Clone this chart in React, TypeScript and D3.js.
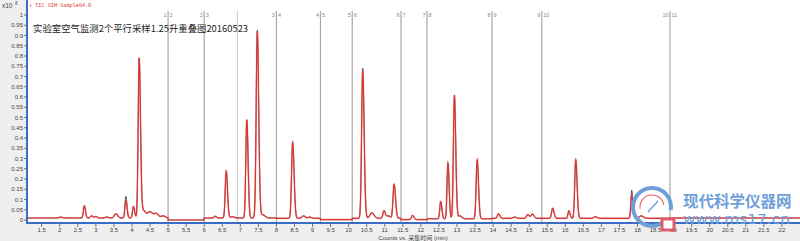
import React from 'react';
import * as d3 from 'd3';

const W = 800;
const H = 241;

// ---- data ----
const xTickValues = [1.5, 2, 2.5, 3, 3.5, 4, 4.5, 5, 5.5, 6, 6.5, 7, 7.5, 8, 8.5, 9, 9.5, 10, 10.5, 11, 11.5, 12, 12.5, 13, 13.5, 14, 14.5, 15, 15.5, 16, 16.5, 17, 17.5, 18, 18.5, 19, 19.5, 20, 20.5, 21, 21.5, 22];
const yTickValues = [0, 0.05, 0.1, 0.15, 0.2, 0.25, 0.3, 0.35, 0.4, 0.45, 0.5, 0.55, 0.6, 0.65, 0.7, 0.75, 0.8, 0.85, 0.9, 0.95, 1];
const yTickLabels = ['0', '0.05', '0.1', '0.15', '0.2', '0.25', '0.3', '0.35', '0.4', '0.45', '0.5', '0.55', '0.6', '0.65', '0.7', '0.75', '0.8', '0.85', '0.9', '0.95', '1'];

// retention times (min) of the peaks
const peakTimes = [2.02, 2.68, 2.88, 3.0, 3.3, 3.55, 3.83, 4.04, 4.2, 4.32, 4.5, 4.67, 4.86, 6.3, 6.61, 6.78, 7.18, 7.47, 7.62, 8.45, 8.75, 8.92, 10.39, 10.64, 10.98, 11.1, 11.26, 11.77, 12.55, 12.75, 12.93, 13.08, 13.56, 14.15, 14.59, 14.96, 15.09, 15.65, 16.1, 16.29, 16.83, 17.84, 18.1];
// apex values (x10^8 counts)
const redApex = [0.014, 0.07, 0.02, 0.017, 0.014, 0.03, 0.095, 0.066, 0.79, 0.045, 0.04, 0.03, 0.02, 0.018, 0.24, 0.016, 0.49, 0.92, 0.025, 0.38, 0.02, 0.014, 0.73, 0.035, 0.045, 0.02, 0.175, 0.022, 0.09, 0.28, 0.61, 0.02, 0.295, 0.03, 0.014, 0.026, 0.028, 0.057, 0.045, 0.295, 0.016, 0.12, 0.02];
const blackApex = [0.014, 0.065, 0.02, 0.017, 0.014, 0.03, 0.115, 0.062, 0.785, 0.045, 0.04, 0.03, 0.02, 0.018, 0.235, 0.016, 0.485, 0.925, 0.025, 0.375, 0.02, 0.014, 0.74, 0.035, 0.045, 0.02, 0.17, 0.022, 0.088, 0.275, 0.6, 0.02, 0.29, 0.03, 0.014, 0.026, 0.028, 0.055, 0.043, 0.29, 0.016, 0.145, 0.02];
const peakSigmas = [0.04, 0.025, 0.03, 0.03, 0.04, 0.04, 0.025, 0.025, 0.028, 0.05, 0.06, 0.05, 0.05, 0.03, 0.027, 0.04, 0.027, 0.03, 0.05, 0.03, 0.04, 0.04, 0.03, 0.05, 0.03, 0.04, 0.03, 0.03, 0.025, 0.025, 0.028, 0.04, 0.028, 0.03, 0.04, 0.035, 0.035, 0.03, 0.025, 0.028, 0.04, 0.025, 0.05];

// acquisition segment boundaries
const segmentTimes = [5.0, 6.0, 6.92, 8.0, 9.22, 10.1, 11.45, 12.17, 13.97, 15.35, 18.9];
const segmentLabels = ['1|2', '2|3', '', '3|4', '4|5', '5|6', '6|7', '7|8', '8|9', '9|10', '10|11'];
const segmentBaselines = [0.01, 0.0, 0.01, 0.01, 0.008, 0.002, 0.008, 0.002, 0.006, 0.008, 0.008, 0.01];

const titleText = '实验室空气监测2个平行采样1.25升重叠图20160523';
const headerText = '+ TIC SIM Sample04.D';
const xAxisTitle = 'Counts vs. 采集时间 (min)';

// ---- layout ----
const plotLeft = 27;
const plotRight = 800;
const plotTop = 0;
const axisY = 223;

const x = d3.scaleLinear().domain([1.093, 22.5]).range([plotLeft, plotRight]);
const y = d3.scaleLinear().domain([0, 1]).range([220, 15]);

function baselineAt(t: number) {
  let i = 0;
  while (i < segmentTimes.length && t >= segmentTimes[i]) i++;
  return segmentBaselines[i];
}

function buildTrace(apex: number[]) {
  const [t0, t1] = x.domain();
  const pts: [number, number][] = [];
  const grid = d3.range(t0, t1, 0.004);
  for (const t of grid) {
    let v = baselineAt(t);
    for (let k = 0; k < peakTimes.length; k++) {
      const amp = apex[k] - baselineAt(peakTimes[k]);
      const s = t < peakTimes[k] ? peakSigmas[k] : peakSigmas[k] * 1.3;
      const d = (t - peakTimes[k]) / s;
      if (Math.abs(d) < 8) v += amp * Math.exp(-0.5 * d * d);
    }
    pts.push([t, v]);
  }
  return pts;
}

const line = d3.line<[number, number]>().x(d => x(d[0])).y(d => y(d[1]));

export default function App() {
  const redPath = line(buildTrace(redApex)) || '';
  const blackPath = line(buildTrace(blackApex)) || '';
  const tickFont = '"Liberation Sans", Arial, sans-serif';
  return (
    <div style={{ position: 'absolute', left: 0, top: 0 }}>
      <svg width={W} height={H} style={{ display: 'block' }}>
        <defs>
          <clipPath id="plotClip">
            <rect x={plotLeft + 1} y={plotTop} width={plotRight - plotLeft} height={axisY - plotTop - 1} />
          </clipPath>
        </defs>
        <rect x={0} y={0} width={W} height={H} fill="#efefef" />
        <rect x={plotLeft} y={0} width={plotRight - plotLeft} height={axisY} fill="#ffffff" />

        {/* segment lines */}
        {segmentTimes.map((t, i) => (
          <g key={'seg' + i}>
            <line x1={x(t)} x2={x(t)} y1={11} y2={axisY} stroke={segmentLabels[i] ? '#a8a8a8' : '#cfcfcf'} strokeWidth={1.2} />
            {segmentLabels[i] && (
              <>
                <text x={x(t) - 1.5} y={16.5} textAnchor="end" fontSize={5.5} fill="#888" fontFamily={tickFont}>{segmentLabels[i].split('|')[0]}</text>
                <text x={x(t) + 1.5} y={16.5} textAnchor="start" fontSize={5.5} fill="#888" fontFamily={tickFont}>{segmentLabels[i].split('|')[1]}</text>
              </>
            )}
          </g>
        ))}

        {/* traces */}
        <g clipPath="url(#plotClip)">
          <path d={blackPath} fill="none" stroke="#1a1a1a" strokeWidth={0.8} />
          <path d={redPath} fill="none" stroke="#f0a0a0" strokeWidth={2} strokeOpacity={0.5} />
          <path d={redPath} fill="none" stroke="#d83434" strokeWidth={1.1} />
        </g>

        {/* y axis */}
        <line x1={plotLeft} x2={plotLeft} y1={0} y2={axisY + 1} stroke="#3a6cc8" strokeWidth={2} />
        {yTickValues.map((v, i) => (
          <g key={'yt' + i}>
            <line x1={plotLeft - 3} x2={plotLeft} y1={y(v)} y2={y(v)} stroke="#555" strokeWidth={0.8} />
            <text x={plotLeft - 4} y={y(v) + 2} textAnchor="end" fontSize={6} fill="#444" fontFamily={tickFont}>{yTickLabels[i]}</text>
          </g>
        ))}
        <text x={2} y={8} fontSize={6.5} fill="#444" fontFamily={tickFont}>x10</text>
        <text x={15} y={5} fontSize={4.5} fill="#444" fontFamily={tickFont}>8</text>

        {/* x axis */}
        <line x1={plotLeft} x2={plotRight} y1={axisY} y2={axisY} stroke="#3a6cc8" strokeWidth={2} />
        {xTickValues.map((v, i) => (
          <g key={'xt' + i}>
            <line x1={x(v)} x2={x(v)} y1={axisY + 1} y2={axisY + 4} stroke="#555" strokeWidth={0.8} />
            <text x={x(v)} y={232} textAnchor="middle" fontSize={6} fill="#444" fontFamily={tickFont}>{String(v)}</text>
          </g>
        ))}
        <text x={413} y={239.5} textAnchor="middle" fontSize={6} fill="#444" fontFamily={'"Liberation Sans", "Noto Sans CJK SC", sans-serif'}>{xAxisTitle}</text>

        {/* header */}
        <text x={29} y={7} fontSize={5.2} fill="#e03030" fontFamily={'"DejaVu Sans Mono", monospace'}>{headerText}</text>
        <text x={33} y={31.5} fontSize={9.4} fill="#222" fontFamily={'"Noto Sans CJK SC", sans-serif'}>{titleText}</text>

        {/* watermark */}
        <g>
          <path d={d3.arc()({ innerRadius: 17, outerRadius: 21, startAngle: Math.PI * 0.85, endAngle: Math.PI * 2.55 }) || ''} transform="translate(652,207)" fill="#6e9fd6" />
          <path d={d3.arc()({ innerRadius: 11.5, outerRadius: 12.5, startAngle: -Math.PI * 0.55, endAngle: Math.PI * 0.45 }) || ''} transform="translate(652,207)" fill="#e06060" />
          <line x1={648} y1={212} x2={658} y2={201} stroke="#6e9fd6" strokeWidth={1.5} />
          <rect x={662} y={219} width={12} height={11} fill="#fff" stroke="#e05a6a" strokeWidth={3} />
          <text x={683} y={207} fontSize={15.5} fontWeight="bold" fill="#6e9fd6" fontFamily={'"Noto Sans CJK SC", sans-serif'}>现代科学仪器网</text>
          <text x={683} y={224} fontSize={14} fill="#6e9fd6" fontFamily={'"DejaVu Sans", sans-serif'} textLength={107} lengthAdjust="spacingAndGlyphs">www.ms17.cn</text>
        </g>
      </svg>
    </div>
  );
}
